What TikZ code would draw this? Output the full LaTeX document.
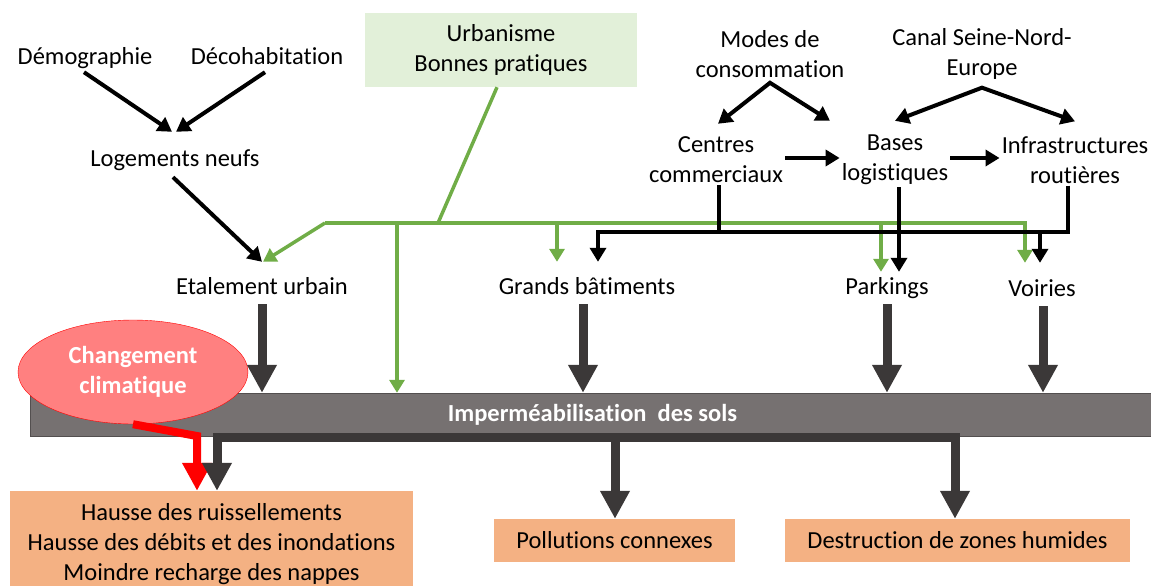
\documentclass[tikz,border=0pt]{standalone}
\usepackage{fontspec}
\setmainfont[Ligatures=NoCommon]{Carlito}
\usetikzlibrary{arrows.meta,shapes.geometric}

\definecolor{vertUrba}{HTML}{70AD47}
\definecolor{vertPale}{HTML}{E2F0D9}
\definecolor{saumon}{HTML}{F4B183}
\definecolor{grisSol}{HTML}{767171}
\definecolor{grisFonce}{HTML}{3B3838}
\definecolor{rose}{HTML}{FF8080}

\begin{document}
\begin{tikzpicture}[x=1pt,y=-1pt,
  txt/.style={font=\fontsize{24.5}{30}\selectfont, align=center, inner sep=2pt},
  ligne/.style={txt, text height=20pt, text depth=2pt},
  boite/.style={txt, fill=saumon, inner sep=0pt},
  noir/.style={line width=4pt},
  noirfl/.style={noir, -{Triangle[length=14pt,width=16pt]}},
  noirdbl/.style={noir, {Triangle[length=14pt,width=16pt]}-{Triangle[length=14pt,width=16pt]}},
  vert/.style={vertUrba, line width=3.5pt},
  vertfl/.style={vert, -{Triangle[length=13pt,width=15pt]}},
  gros/.style={grisFonce, line width=9pt},
  grosfl/.style={gros, -{Triangle[length=28pt,width=28pt]}},
  rougefl/.style={red, line width=8pt, -{Triangle[length=28pt,width=28pt]}}]

  \useasboundingbox (0,0) rectangle (1151,586);

  % causes
  \node[ligne] (demo) at (85,55) {Démographie};
  \node[ligne] (decoh) at (267,55) {Décohabitation};
  \node[ligne] (logt) at (175,157) {Logements neufs};
  \node[txt, fill=vertPale, minimum width=272pt, minimum height=74pt] (urba) at (501,50) {Urbanisme\\Bonnes pratiques};
  \node[txt] (modes) at (770,54) {Modes de\\consommation};
  \node[txt] (canal) at (982,54) {Canal Seine-Nord-\\Europe};
  \node[txt] (centres) at (716,160) {Centres\\commerciaux};
  \node[txt] (bases) at (895,160) {Bases\\logistiques};
  \node[txt] (infra) at (1075,160) {Infrastructures\\routières};

  \node[ligne] (etal) at (262,285) {Etalement urbain};
  \node[ligne] (grands) at (587,285) {Grands bâtiments};
  \node[ligne] (parkings) at (887,285) {Parkings};
  \node[ligne] (voiries) at (1042,287) {Voiries};

  % barre centrale
  \node[draw=grisSol!70!black, fill=grisSol, minimum width=1125pt, minimum height=43pt, inner sep=0pt,
        font=\fontsize{24.5}{30}\selectfont\bfseries, text=white] (imper) at (592.5,414.5) {Imperméabilisation\ \ des sols};
  \node[ellipse, draw=red, fill=rose, minimum width=230pt, minimum height=104pt, inner sep=0pt, align=center,
        font=\fontsize{24.5}{30}\selectfont\bfseries, text=white] (climat) at (133,372) {Changement\\climatique};

  % effets
  \node[boite, minimum width=403pt, minimum height=106pt] (hausse) at (211.5,544)
    {Hausse des ruissellements\\Hausse des débits et des inondations\\Moindre recharge des nappes};
  \node[boite, minimum width=241pt, minimum height=43pt] (pollu) at (614.5,540.5) {Pollutions connexes};
  \node[boite, minimum width=345pt, minimum height=43pt] (destr) at (957.5,540.5) {Destruction de zones humides};

  \draw[noirfl] ([xshift=-1pt,yshift=-4pt]demo.south) -- ([xshift=-3pt,yshift=12pt]logt.north);
  \draw[noirfl] ([xshift=-2pt,yshift=-4pt]decoh.south) -- ([xshift=1pt,yshift=12pt]logt.north);
  \draw[noirfl] ([xshift=-2pt,yshift=-7pt]logt.south) -- ([yshift=10pt]etal.north);

  \draw[noirdbl] ([xshift=2pt,yshift=11pt]centres.north) -- ([yshift=-3pt]modes.south) -- ([xshift=-65pt,yshift=12pt]bases.north);
  \draw[noirdbl] ([yshift=12pt]bases.north) -- ([yshift=-6pt]canal.south) -- ([yshift=13pt]infra.north);
  \draw[noirfl] ([yshift=2pt]centres.east) -- ([yshift=2pt]bases.west);
  \draw[noirfl] ([yshift=2pt]bases.east) -- ([yshift=2pt]infra.west);

  % bonnes pratiques
  \coordinate (g0) at (325,223);
  \coordinate (g1) at (397,223);
  \coordinate (gj) at (438,223);
  \coordinate (g2) at (557,223);
  \coordinate (g3) at (881,223);
  \draw[vert] ([xshift=-4pt]urba.south) -- (gj);
  \draw[vertfl] (g0) -| ([xshift=-17pt,yshift=11pt]voiries.north);
  \draw[vertfl] (g0) -- ([xshift=1pt,yshift=10pt]etal.north);
  \draw[vertfl] (g1) -- (g1 |- imper.north);
  \draw[vertfl, shorten >=10pt] (g2) -- (g2 |- grands.north);
  \draw[vertfl] (g3) -- (g3 |- parkings.north);

  % commerce et logistique
  \coordinate (n0) at (598,232);
  \coordinate (n1) at (719,232);
  \coordinate (n2) at (899,232);
  \coordinate (n3) at (1040,232);
  \draw[noir] (n1 |- centres.south) -- (n1);
  \draw[noirfl, shorten >=10pt] ([xshift=-7pt]infra.south) |- (n0) -- (n0 |- grands.north);
  \draw[noirfl] (n2 |- bases.south) -- (n2 |- parkings.north);
  \draw[noirfl, shorten >=11pt] (n3) -- (n3 |- voiries.north);

  \foreach \n/\dx in {etal/0, grands/-4, parkings/0, voiries/1} {
    \coordinate (s) at ([xshift=\dx pt,yshift=-6pt]\n.south);
    \draw[grosfl] (s) -- (s |- imper.north);
  }

  % sorties
  \coordinate (r1) at (197,436);
  \draw[rougefl] (climat.south) -- (r1) -- (r1 |- hausse.north);
  \coordinate (d1) at (217,437);
  \coordinate (d2) at (615,437);
  \coordinate (d3) at (955,437);
  \draw[gros, line cap=rect] (d1) -- (d3);
  \foreach \d/\n in {d1/hausse, d2/pollu, d3/destr}
    \draw[grosfl] (\d) -- (\d |- \n.north);

\end{tikzpicture}
\end{document}
